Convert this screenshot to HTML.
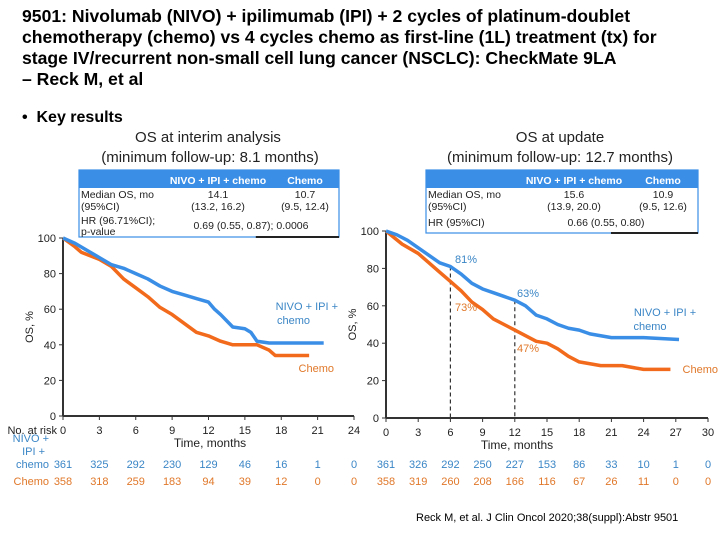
<!DOCTYPE html>
<html><head><meta charset="utf-8"><style>
body{margin:0;width:720px;height:540px;background:#fff;font-family:"Liberation Sans",sans-serif;overflow:hidden;position:relative}
.t{position:absolute;white-space:nowrap}
</style></head><body>
<div class="t" style="left:22px;top:6px;font-size:17.6px;font-weight:bold;line-height:21px;color:#000">9501: Nivolumab (NIVO) + ipilimumab (IPI) + 2 cycles of platinum-doublet<br>chemotherapy (chemo) vs 4 cycles chemo as first-line (1L) treatment (tx) for<br>stage IV/recurrent non-small cell lung cancer (NSCLC): CheckMate 9LA<br>– Reck M, et al</div>
<div class="t" style="left:22px;top:109px;font-size:16px;font-weight:bold">•&nbsp; Key results</div>
<div class="t" style="left:416px;top:512px;font-size:11px">Reck M, et al. J Clin Oncol 2020;38(suppl):Abstr 9501</div>
<svg id="svg" width="720" height="540" style="position:absolute;left:0;top:0" font-family="Liberation Sans, sans-serif"></svg>
<script>
const leftNivoX=[0,1,2,3,4,5,6,7,8,9,10,11,12,12.5,13,14,15,15.5,16,17,19,21.5];
const leftNivoY=[100,97,93,89,85,83,80,77,73,70,68,66,64,60,57,50,49,47,42,41,41,41];
const leftChemoX=[0,1,1.5,3,4,5,6,7,8,9,10,11,12,13,14,16,17,17.5,20.3];
const leftChemoY=[100,95,92,88,84,77,72,67,61,57,52,47,45,42,40,40,37,34,34];
const rightNivoX=[0,1,2,3,4,5,6,7,8,9,10,11,12,13,14,15,16,17,18,19,20,21,24,27.3];
const rightNivoY=[100,98,95,91,87,83,81,77,72,69,67,65,63,60,55,53,50,48,47,45,44,43,43,42];
const rightChemoX=[0,1.5,3,4,5,6,7,8,9,10,11,12,13,14,15,16,17,18,19,20,22,23,24,26.5];
const rightChemoY=[100,93,88,83,78,73,68,62,58,53,50,47,44,41,40,37,33,30,29,28,28,27,26,26];
const leftXTicks=[0,3,6,9,12,15,18,21,24];
const rightXTicks=[0,3,6,9,12,15,18,21,24,27,30];
const yTicks=[0,20,40,60,80,100];
const leftRiskNivo=[361,325,292,230,129,46,16,1,0];
const leftRiskChemo=[358,318,259,183,94,39,12,0,0];
const rightRiskNivo=[361,326,292,250,227,153,86,33,10,1,0];
const rightRiskChemo=[358,319,260,208,166,116,67,26,11,0,0];
const BLUE="#3a8ee6",ORANGE="#f26a1b",BT="#3b86c6",OT="#e0782a";
const svg=document.getElementById('svg');const NS="http://www.w3.org/2000/svg";
function mk(tag,attrs,txt){const e=document.createElementNS(NS,tag);for(const k in attrs)e.setAttribute(k,attrs[k]);if(txt!==undefined)e.textContent=txt;svg.appendChild(e);return e;}
function chart(p){
 const sx=v=>p.x0+v*(p.x1-p.x0)/p.xmax, sy=v=>p.y0-v*(p.y0-p.y100)/100;
 let e=mk('line',{x1:p.x0,y1:p.y100,x2:p.x0,y2:p.y0,stroke:'#333','stroke-width':2});
 
 e=mk('line',{x1:p.x0,y1:p.y0,x2:p.x1,y2:p.y0,stroke:'#333','stroke-width':2});
 
 yTicks.forEach(v=>{mk('line',{x1:p.x0-4,y1:sy(v),x2:p.x0,y2:sy(v),stroke:'#333'});
  e=mk('text',{x:p.x0-7,y:sy(v)+4,'font-size':11,'text-anchor':'end',fill:'#222'},v);
  });
 p.xt.forEach((v,i)=>{mk('line',{x1:sx(v),y1:p.y0,x2:sx(v),y2:p.y0+4,stroke:'#333'});
  e=mk('text',{x:sx(v),y:p.y0+18,'font-size':11,'text-anchor':'middle',fill:'#222'},v);
  
  e=mk('text',{x:sx(v),y:468,'font-size':11,'text-anchor':'middle',fill:BT},p.rn[i]);
  
  e=mk('text',{x:sx(v),y:485,'font-size':11,'text-anchor':'middle',fill:OT},p.rc[i]);
  });
 e=mk('text',{x:p.tx,y:p.y0+31,'font-size':12,'text-anchor':'middle',fill:'#222'},'Time, months');
 
 e=mk('text',{x:0,y:0,'font-size':11,'text-anchor':'middle',fill:'#222',transform:`translate(${p.x0-30},${sy(50)}) rotate(-90)`},'OS, %');
 
 (p.dash||[]).forEach(v=>{e=mk('line',{x1:sx(v),y1:sy(p.dashTop(v)),x2:sx(v),y2:p.y0,stroke:'#333','stroke-dasharray':'4,3','stroke-width':1.2});
  });
 [[p.cx,p.cy,ORANGE,'chemo'],[p.nx,p.ny,BLUE,'nivo']].forEach(([X,Y,c,n])=>{
  let d='';X.forEach((x,i)=>{const px=sx(x),py=sy(Y[i]);d+=(i==0?'M':'L')+px+','+py;});
  e=mk('path',{d:d,fill:'none',stroke:c,'stroke-width':3.5,'stroke-linejoin':'round'});
  });
 return {sx,sy};
}
function table(x,y,w,rows,id){
 let e=mk('rect',{x:x,y:y,width:w,height:18,fill:BLUE});
 mk('rect',{x:x,y:y,width:w,height:rows,fill:'none',stroke:BLUE,'stroke-width':1.2});
 mk('line',{x1:x+w*0.68,y1:y+rows,x2:x+w,y2:y+rows,stroke:'#222','stroke-width':2});
}
chart({id:'left',x0:63,x1:354,xmax:24,y0:416,y100:238,xt:leftXTicks,rn:leftRiskNivo,rc:leftRiskChemo,tx:210,nx:leftNivoX,ny:leftNivoY,cx:leftChemoX,cy:leftChemoY});
chart({id:'right',x0:386,x1:708,xmax:30,y0:418,y100:231,xt:rightXTicks,rn:rightRiskNivo,rc:rightRiskChemo,tx:517,nx:rightNivoX,ny:rightNivoY,cx:rightChemoX,cy:rightChemoY,dash:[6,12],dashTop:v=>v==6?81:63});
table(79,170,260,67,'left-table');table(426,170,272,63,'right-table');
const T=[
[208,142,'OS at interim analysis',15,'#222','middle','left-chart-title'],
[210,162,'(minimum follow-up: 8.1 months)',15,'#222','middle','left-chart-subtitle'],
[560,142,'OS at update',15,'#222','middle','right-chart-title'],
[560,162,'(minimum follow-up: 12.7 months)',15,'#222','middle','right-chart-subtitle'],
[218,184,'NIVO + IPI + chemo',10.5,'#fff','middle','th-nivo'],[305,184,'Chemo',10.5,'#fff','middle','th-chemo'],
[81,198,'Median OS, mo',10.5,'#222','start','row-label'],[81,210,'(95%CI)',10.5,'#222','start','row-label'],
[218,198,'14.1',10.5,'#222','middle','val'],[218,210,'(13.2, 16.2)',10.5,'#222','middle','val'],
[305,198,'10.7',10.5,'#222','middle','val'],[305,210,'(9.5, 12.4)',10.5,'#222','middle','val'],
[81,224,'HR (96.71%CI);',10.5,'#222','start','row-label'],[81,235,'p-value',10.5,'#222','start','row-label'],
[251,229,'0.69 (0.55, 0.87); 0.0006',10.5,'#222','middle','val'],
[574,184,'NIVO + IPI + chemo',10.5,'#fff','middle','th-nivo'],[663,184,'Chemo',10.5,'#fff','middle','th-chemo'],
[428,198,'Median OS, mo',10.5,'#222','start','row-label'],[428,210,'(95%CI)',10.5,'#222','start','row-label'],
[574,198,'15.6',10.5,'#222','middle','val'],[574,210,'(13.9, 20.0)',10.5,'#222','middle','val'],
[663,198,'10.9',10.5,'#222','middle','val'],[663,210,'(9.5, 12.6)',10.5,'#222','middle','val'],
[428,226,'HR (95%CI)',10.5,'#222','start','row-label'],[606,226,'0.66 (0.55, 0.80)',10.5,'#222','middle','val'],
[338,310,'NIVO + IPI +',11,BT,'end','nivo-label'],[310,324,'chemo',11,BT,'end','nivo-label'],
[334,372,'Chemo',11,OT,'end','chemo-label'],
[665,316,'NIVO + IPI +',11,BT,'middle','nivo-label'],[650,330,'chemo',11,BT,'middle','nivo-label'],
[718,373,'Chemo',11,OT,'end','chemo-label'],
[455,263,'81%',11,BT,'start','landmark-81'],[517,297,'63%',11,BT,'start','landmark-63'],
[455,311,'73%',11,OT,'start','landmark-73'],[517,352,'47%',11,OT,'start','landmark-47'],
[57,434,'No. at risk',11,'#222','end','risk-header'],
[49,442,'NIVO +',11,BT,'end','risk-nivo-label'],[45,455,'IPI +',11,BT,'end','risk-nivo-label'],[49,468,'chemo',11,BT,'end','risk-nivo-label'],
[49,485,'Chemo',11,OT,'end','risk-chemo-label']];
T.forEach(t=>{const e=mk('text',{x:t[0],y:t[1],'font-size':t[3],fill:t[4],'text-anchor':t[5]},t[2]);
 if(t[4]=='#fff')e.setAttribute('font-weight','bold');
 });
</script>
</body></html>
